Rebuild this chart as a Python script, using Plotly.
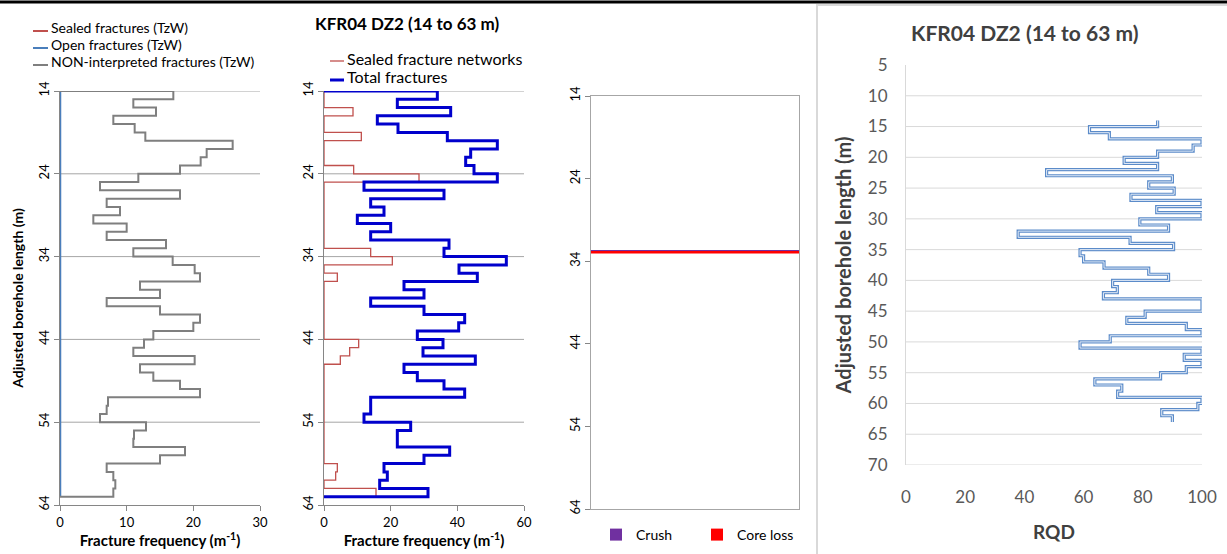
import plotly.graph_objects as go

W, H = 1227, 554

# Depth bins (m): each value covers [edge, edge + 1]
depth_edges = list(range(14, 64))

# Panel 1 - TzW fracture frequency (m-1)
sealed_tzw = [0, 0, 0, 0, 0, 0, 0, 0, 0, 0, 0, 0, 0, 0, 0, 0, 0, 0, 0, 0, 0, 0, 0, 0, 0,
              0, 0, 0, 0, 0, 0, 0, 0, 0, 0, 0, 0, 0, 0, 0, 0, 0, 0, 0, 0, 0, 0, 0, 0]
open_tzw = [0, 0, 0, 0, 0, 0, 0, 0, 0, 0, 0, 0, 0, 0, 0, 0, 0, 0, 0, 0, 0, 0, 0, 0, 0,
            0, 0, 0, 0, 0, 0, 0, 0, 0, 0, 0, 0, 0, 0, 0, 0, 0, 0, 0, 0, 0, 0, 0, 0]
nonint_tzw = [17, 11, 14.4, 8, 11.2, 12.8, 25.9, 22, 21.1, 18,
              11.75, 6, 18, 7, 9, 5, 10, 7, 15.9, 11,
              16.9, 20.2, 21, 12, 15, 7, 15, 21, 20, 14,
              12.6, 11, 20.2, 12, 14, 18, 21, 7.2, 7, 6,
              12.9, 11.1, 11, 18.75, 15, 7, 8, 8.3, 8]

# Panel 2 - fracture frequency (m-1)
sealed_networks = [0, 0, 8.7, 0, 0, 11.2, 0, 0, 0, 8.9,
                   28.5, 0, 0, 0, 0, 0, 0, 0, 0, 14,
                   20.5, 0, 4, 0, 0, 0, 0, 0, 0, 0,
                   10.4, 7.7, 4.9, 0, 0, 0, 0, 0, 0, 0,
                   0, 0, 0, 0, 0, 4, 3.5, 0, 15.6]
total_fractures = [34, 22, 38, 16, 22.2, 37, 52, 44, 42.5, 45,
                   52, 12, 36, 14, 18, 10, 20, 14, 37.5, 36,
                   54.7, 40.5, 46, 24, 30, 14, 30, 42.2, 40.4, 28,
                   35.7, 29.7, 45.4, 24, 28, 36, 42.2, 14, 14, 12,
                   26, 22, 22, 37.7, 30, 18, 19, 16.7, 31.2]

# Panel 3 - crush / core loss depth (m) and bar thickness (m)
crush_depth = [32.77]
core_loss_depth = [32.97]
event_thickness = [0.22]

# Panel 4 - RQD
rqd = [85, 62, 68.7, 100, 97, 85, 73.7, 85, 47.5, 90,
       82, 90.6, 76, 100, 84.7, 100, 79, 88.7, 37.9, 75.7,
       90.4, 58.8, 60, 66.9, 82, 88.7, 69.8, 71.4, 66.7, 100,
       100, 80.8, 74.6, 94.7, 100, 69, 58.8, 100, 94, 100,
       94.7, 86, 63.8, 72.9, 71.5, 100, 98.6, 86.4, 90]

depth_ticks = [14, 24, 34, 44, 54, 64]
rqd_ticks = [5, 10, 15, 20, 25, 30, 35, 40, 45, 50, 55, 60, 65, 70]
rqd_grid = [10, 15, 20, 25, 30, 35, 40, 45, 50, 55, 60, 65, 70]


def step_path(values, edges, close=True):
    xs, ys = ([0], [edges[0]]) if close else ([], [])
    for v, top, bot in zip(values, edges[:-1], edges[1:]):
        xs += [v, v]
        ys += [top, bot]
    if close:
        xs.append(0)
        ys.append(edges[-1])
    return xs, ys


def px(x):
    return x / W


def py(y):
    return 1 - y / H


FONT = "Lato, 'Open Sans', sans-serif"
GRID = "#a6a6a6"

fig = go.Figure()
shapes = []
annotations = []

# Panel 1
panel1 = [
    ("Sealed fractures (TzW)", sealed_tzw, "#c0504d", 2),
    ("Open fractures (TzW)", open_tzw, "#4a7ebb", 2.5),
    ("NON-interpreted fractures (TzW)", nonint_tzw, "#7f7f7f", 2),
]
for name, vals, color, width in panel1:
    xs, ys = step_path(vals, depth_edges)
    fig.add_trace(go.Scatter(x=xs, y=ys, mode="lines", name=name, showlegend=False,
                             line=dict(color=color, width=width),
                             xaxis="x", yaxis="y"))

# Panel 2
panel2 = [
    ("Sealed fracture networks", sealed_networks, "#c0504d", 1.3),
    ("Total fractures", total_fractures, "#0000cc", 3),
]
for name, vals, color, width in panel2:
    xs, ys = step_path(vals, depth_edges)
    fig.add_trace(go.Scatter(x=xs, y=ys, mode="lines", name=name, showlegend=False,
                             line=dict(color=color, width=width),
                             xaxis="x2", yaxis="y2"))

# Panel 3
fig.add_trace(go.Bar(y=crush_depth, x=[1], width=event_thickness, orientation="h",
                     name="Crush", marker=dict(color="#7030a0", line_width=0),
                     xaxis="x3", yaxis="y3", legend="legend"))
fig.add_trace(go.Bar(y=core_loss_depth, x=[1], width=event_thickness, orientation="h",
                     name="Core loss", marker=dict(color="#ff0000", line_width=0),
                     xaxis="x3", yaxis="y3", legend="legend"))

# Panel 4 (outlined line look)
xs, ys = step_path(rqd, depth_edges, close=False)
fig.add_trace(go.Scatter(x=xs, y=ys, mode="lines", showlegend=False,
                         line=dict(color="#5b8bc9", width=3.2),
                         xaxis="x4", yaxis="y4"))
fig.add_trace(go.Scatter(x=xs, y=ys, mode="lines", showlegend=False,
                         line=dict(color="#e4ecf7", width=1),
                         xaxis="x4", yaxis="y4"))

# gridlines
for xa, ya in [("x", "y"), ("x2", "y2")]:
    for d in depth_ticks[:-1]:
        shapes.append(dict(type="line", xref=xa + " domain", yref=ya, x0=0, x1=1,
                           y0=d, y1=d, layer="below", line=dict(color=GRID, width=1)))
for d in rqd_grid:
    shapes.append(dict(type="line", xref="x4 domain", yref="y4", x0=0, x1=1,
                       y0=d, y1=d, layer="below", line=dict(color="#d9d9d9", width=1)))

# hand-drawn legends for panels 1 and 2 (short underline samples)
for i, (name, _, color, width) in enumerate(panel1):
    yc = 27 + 17 * i
    shapes.append(dict(type="line", xref="paper", yref="paper", x0=px(33), x1=px(48),
                       y0=py(yc + 4), y1=py(yc + 4), line=dict(color=color, width=2)))
    annotations.append(dict(text=name, x=px(49), y=py(yc), xanchor="left",
                            yanchor="middle", xref="paper", yref="paper",
                            showarrow=False, font=dict(size=14, color="#000000")))
for i, (name, _, color, width) in enumerate(panel2):
    yc = 58 + 19 * i
    shapes.append(dict(type="line", xref="paper", yref="paper", x0=px(330), x1=px(344),
                       y0=py(yc + 3), y1=py(yc + 3), line=dict(color=color, width=width)))
    annotations.append(dict(text=name, x=px(345), y=py(yc), xanchor="left",
                            yanchor="middle", xref="paper", yref="paper",
                            showarrow=False, font=dict(size=16, color="#000000")))

annotations += [
    dict(text="<b>KFR04 DZ2 (14 to 63 m)</b>", x=px(407), y=py(23), xanchor="center",
         yanchor="middle", xref="paper", yref="paper", showarrow=False,
         font=dict(size=17, color="#000000")),
    dict(text="<b>KFR04 DZ2 (14 to 63 m)</b>", x=px(1024), y=py(33), xanchor="center",
         yanchor="middle", xref="paper", yref="paper", showarrow=False,
         font=dict(size=21, color="#404040")),
]

shapes += [
    dict(type="line", xref="paper", yref="paper", x0=0, x1=1,
         y0=py(2), y1=py(2), line=dict(color="#000000", width=3)),
    dict(type="rect", xref="paper", yref="paper", x0=px(817), x1=px(1232),
         y0=py(560), y1=py(5), line=dict(color="#d9d9d9", width=2)),
]

depth_axis = dict(range=[64, 14], tickvals=depth_ticks, tickangle=-90,
                  ticks="outside", ticklen=5, tickcolor="#868686",
                  showline=True, linecolor="#868686", zeroline=False, showgrid=False,
                  tickfont=dict(size=13, color="#000000"),
                  domain=[py(505), py(91)])
freq_axis = dict(ticks="outside", ticklen=5, tickcolor="#868686",
                 showline=True, linecolor="#868686", showgrid=False, zeroline=False,
                 tickfont=dict(size=13, color="#000000"))
freq_title = dict(text="<b>Fracture frequency (m<sup>-1</sup>)</b>",
                  font=dict(size=15, color="#000000"), standoff=0)

fig.update_layout(
    width=W, height=H,
    margin=dict(l=0, r=0, t=0, b=0, autoexpand=False),
    paper_bgcolor="white", plot_bgcolor="white",
    font=dict(family=FONT, color="#000000"),
    barmode="overlay",
    xaxis=dict(freq_axis, domain=[px(60), px(260)], range=[0, 30],
               tickvals=[0, 10, 20, 30], anchor="y", title=freq_title),
    yaxis=dict(depth_axis, anchor="x",
               title=dict(text="<b>Adjusted borehole length (m)</b>",
                          font=dict(size=14), standoff=8)),
    xaxis2=dict(freq_axis, domain=[px(324), px(524)], range=[0, 60],
                tickvals=[0, 20, 40, 60], anchor="y2", title=freq_title),
    yaxis2=dict(depth_axis, anchor="x2"),
    xaxis3=dict(domain=[px(591), px(799)], range=[0, 1], anchor="y3",
                showticklabels=False, ticks="", showgrid=False, zeroline=False,
                showline=True, mirror=True, linecolor=GRID),
    yaxis3=dict(depth_axis, anchor="x3", mirror=True,
                linecolor=GRID, domain=[py(509), py(96)]),
    xaxis4=dict(domain=[px(906), px(1202)], range=[0, 100], dtick=20, anchor="y4",
                showline=False, showgrid=False, zeroline=False, ticks="",
                ticklabelstandoff=20, tickfont=dict(size=17, color="#595959"),
                title=dict(text="<b>RQD</b>", font=dict(size=19, color="#404040"),
                           standoff=19)),
    yaxis4=dict(domain=[py(465), py(65)], range=[70, 5], tickvals=rqd_ticks,
                anchor="x4", showgrid=False, zeroline=False, ticks="",
                showline=True, linecolor="#d9d9d9", ticklabelstandoff=14,
                tickfont=dict(size=17, color="#595959"),
                title=dict(text="<b>Adjusted borehole length (m)</b>",
                           font=dict(size=20, color="#404040"), standoff=10)),
    legend=dict(x=px(596), y=py(519), xanchor="left", yanchor="top",
                orientation="h", font=dict(size=14), entrywidth=56,
                entrywidthmode="pixels", bgcolor="rgba(0,0,0,0)"),
    shapes=shapes,
    annotations=annotations,
)

# the page's default body margin would offset the figure by 8 px
fig.write_html("out.html", config={"displayModeBar": False},
               post_script="document.body.style.margin = '0';")
